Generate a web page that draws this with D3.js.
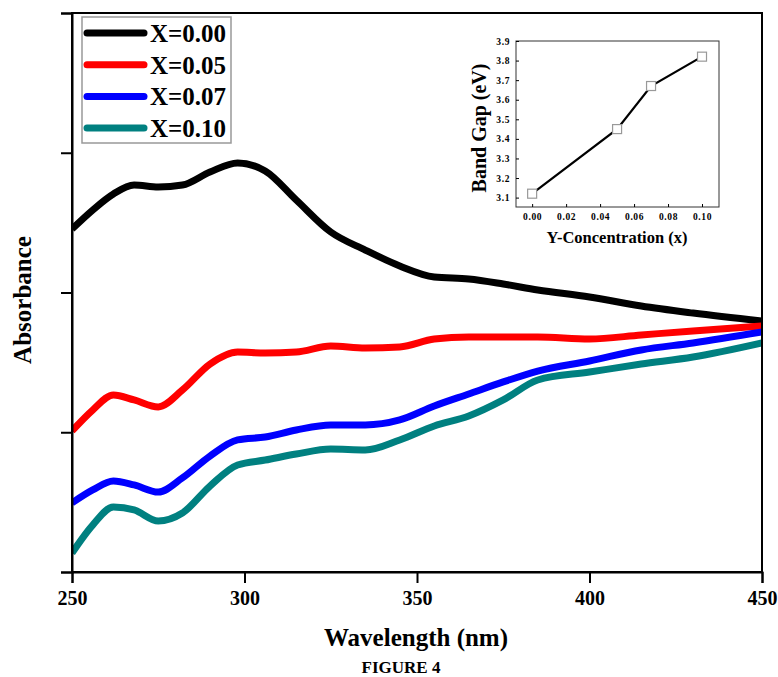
<!DOCTYPE html>
<html>
<head>
<meta charset="utf-8">
<script src="https://cdn.jsdelivr.net/npm/d3@7"></script>
<style>
    body { margin: 0; background: #fff; }
    svg text { font-family: "Times New Roman", Times, Tinos, serif !important; font-weight: bold; fill: #000; }
    .axis path, .axis line { stroke: #000; }
</style>
</head>
<body>
<svg id="chart" width="778" height="677"></svg>
<script>
// wavelength grid (nm)
var wavelength = [250, 256, 262, 268, 275, 282, 290, 298, 306, 315, 325, 335, 345, 355, 365, 375, 385, 400, 415, 430, 450];

// absorbance (arb. units)
var absX000 = [2.454, 2.590, 2.705, 2.769, 2.755, 2.769, 2.862, 2.927, 2.870, 2.662, 2.433, 2.304, 2.190, 2.111, 2.097, 2.061, 2.018, 1.968, 1.903, 1.853, 1.796];
var absX005 = [1.009, 1.159, 1.267, 1.231, 1.181, 1.302, 1.488, 1.574, 1.567, 1.574, 1.617, 1.603, 1.610, 1.667, 1.682, 1.682, 1.682, 1.667, 1.696, 1.725, 1.760];
var absX007 = [0.494, 0.587, 0.651, 0.623, 0.572, 0.673, 0.830, 0.945, 0.966, 1.016, 1.052, 1.052, 1.088, 1.188, 1.274, 1.360, 1.438, 1.510, 1.589, 1.639, 1.717];
var absX010 = [0.136, 0.336, 0.465, 0.444, 0.365, 0.422, 0.615, 0.766, 0.801, 0.844, 0.880, 0.873, 0.945, 1.045, 1.116, 1.231, 1.374, 1.431, 1.488, 1.538, 1.639];

var seriesNames = ['X=0.00', 'X=0.05', 'X=0.07', 'X=0.10'];
var seriesColors = ['#000000', '#ff0000', '#0000ff', '#008080'];

var xTicks = [250, 300, 350, 400, 450];
var yTicks = [0, 1, 2, 3, 4];

// inset: band gap vs Y concentration
var concentration = [0.00, 0.05, 0.07, 0.10];
var bandGap = [3.12, 3.45, 3.67, 3.82];
var insetXTicks = [0.00, 0.02, 0.04, 0.06, 0.08, 0.10];
var insetYTicks = [3.1, 3.2, 3.3, 3.4, 3.5, 3.6, 3.7, 3.8, 3.9];

var Chart = function() {

    var svg = d3.select('#chart');

    var buildMain = function(){
        const left = 72, top = 13;
        const width = 690, height = 559;

        const chart = svg.append('g')
            .attr('transform', `translate(${left}, ${top})`);

        const xScale = d3.scaleLinear().domain([250, 450]).range([0, width]);
        const yScale = d3.scaleLinear().domain([0, 4]).range([height, 0]);

        chart.append('defs').append('clipPath').attr('id', 'clip')
            .append('rect').attr('width', width).attr('height', height);

        const all = [absX000, absX005, absX007, absX010];
        const line = d3.line()
            .x((d, i) => xScale(wavelength[i]))
            .y((d) => yScale(d))
            .curve(d3.curveMonotoneX);

        chart.append('g').attr('clip-path', 'url(#clip)')
            .selectAll('path')
            .data(all)
            .enter()
            .append('path')
            .attr('d', (d) => line(d))
            .attr('fill', 'none')
            .attr('stroke', (d, i) => seriesColors[i])
            .attr('stroke-width', 7)
            .attr('stroke-linejoin', 'round');

        // frame
        chart.append('rect')
            .attr('width', width).attr('height', height)
            .attr('fill', 'none').attr('stroke', '#000').attr('stroke-width', 2);

        const xAxis = chart.append('g')
            .attr('class', 'axis')
            .attr('transform', `translate(0, ${height})`)
            .call(d3.axisBottom(xScale).tickValues(xTicks).tickSize(11).tickPadding(8));
        xAxis.select('.domain').attr('stroke-width', 2);
        xAxis.selectAll('line').attr('stroke-width', 2);
        xAxis.selectAll('text').style('font-size', '20px');

        const yAxis = chart.append('g')
            .attr('class', 'axis')
            .call(d3.axisLeft(yScale).tickValues(yTicks).tickSize(11).tickFormat(''));
        yAxis.select('.domain').attr('stroke-width', 2);
        yAxis.selectAll('line').attr('stroke-width', 2);

        svg.append('text')
            .attr('x', 416)
            .attr('y', 646)
            .attr('text-anchor', 'middle')
            .style('font-size', '25px')
            .text('Wavelength (nm)');

        svg.append('text')
            .attr('x', 401)
            .attr('y', 673)
            .attr('text-anchor', 'middle')
            .style('font-size', '17px')
            .text('FIGURE 4');

        svg.append('text')
            .attr('transform', 'translate(31, 300) rotate(-90)')
            .attr('text-anchor', 'middle')
            .style('font-size', '25px')
            .text('Absorbance');

        // legend
        const legend = svg.append('g');
        legend.append('rect')
            .attr('x', 82).attr('y', 17)
            .attr('width', 149).attr('height', 126)
            .attr('fill', '#fff').attr('stroke', '#999').attr('stroke-width', 1.5);
        const items = legend.selectAll('.item')
            .data(seriesNames)
            .enter()
            .append('g')
            .attr('transform', (d, i) => `translate(0, ${33 + i * 31.7})`);
        items.append('line')
            .attr('x1', 87).attr('x2', 144)
            .attr('stroke', (d, i) => seriesColors[i])
            .attr('stroke-width', 7)
            .attr('stroke-linecap', 'round');
        items.append('text')
            .attr('x', 150).attr('y', 9)
            .style('font-size', '25px')
            .text((d) => d);
    };

    var buildInset = function(){
        const left = 516, top = 41;
        const width = 203, height = 166;

        const inset = svg.append('g')
            .attr('transform', `translate(${left}, ${top})`);

        const xScale = d3.scaleLinear().domain([-0.0095, 0.11]).range([0, width]);
        const yScale = d3.scaleLinear().domain([3.052, 3.9]).range([height, 0]);

        inset.append('rect')
            .attr('width', width).attr('height', height)
            .attr('fill', '#fff').attr('stroke', '#333').attr('stroke-width', 1);

        const xAxis = inset.append('g')
            .attr('class', 'axis')
            .attr('transform', `translate(0, ${height})`)
            .call(d3.axisBottom(xScale).tickValues(insetXTicks).tickSize(-3).tickPadding(6).tickFormat(d3.format('.2f')));
        xAxis.select('.domain').remove();
        xAxis.selectAll('text').style('font-size', '9.5px').attr('letter-spacing', '0.6px');

        const yAxis = inset.append('g')
            .attr('class', 'axis')
            .call(d3.axisLeft(yScale).tickValues(insetYTicks).tickSize(-3).tickPadding(6).tickFormat(d3.format('.1f')));
        yAxis.select('.domain').remove();
        yAxis.selectAll('text').style('font-size', '9.5px').attr('letter-spacing', '0.6px');

        const line = d3.line()
            .x((d, i) => xScale(concentration[i]))
            .y((d) => yScale(d));
        inset.append('path')
            .attr('d', line(bandGap))
            .attr('fill', 'none')
            .attr('stroke', '#000')
            .attr('stroke-width', 2.2);

        inset.selectAll('.pt')
            .data(bandGap)
            .enter()
            .append('rect')
            .attr('x', (d, i) => xScale(concentration[i]) - 4.5)
            .attr('y', (d) => yScale(d) - 4.5)
            .attr('width', 9).attr('height', 9)
            .attr('fill', '#fff')
            .attr('stroke', '#999')
            .attr('stroke-width', 1.2);

        svg.append('text')
            .attr('x', 617)
            .attr('y', 243)
            .attr('text-anchor', 'middle')
            .style('font-size', '16.5px')
            .text('Y-Concentration (x)');

        svg.append('text')
            .attr('transform', 'translate(486, 128) rotate(-90)')
            .attr('text-anchor', 'middle')
            .style('font-size', '20px')
            .text('Band Gap (eV)');
    };

    return {
        init: function() {
            buildMain();
            buildInset();
        }
    }
}();
document.addEventListener('DOMContentLoaded', function() {
    Chart.init();
});
</script>
</body>
</html>
